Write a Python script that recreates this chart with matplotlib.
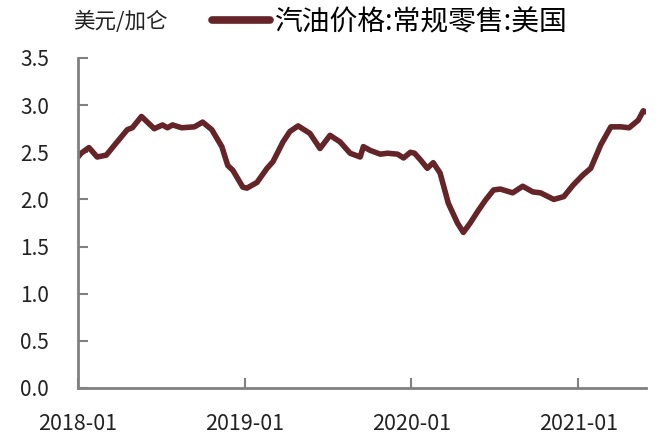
import matplotlib
matplotlib.use('Agg')
import matplotlib.pyplot as plt
import matplotlib.dates as mdates
import pandas as pd

plt.rcParams['font.family'] = ['Noto Sans CJK SC', 'DejaVu Sans']

# (US regular gasoline retail price, USD/gallon)
dates = ['2018-01-01', '2018-01-08', '2018-01-25', '2018-02-12', '2018-03-04',
         '2018-03-26', '2018-04-19', '2018-04-30', '2018-05-20', '2018-06-17',
         '2018-07-05', '2018-07-16', '2018-07-27', '2018-08-16', '2018-09-13',
         '2018-10-01', '2018-10-21', '2018-11-12', '2018-11-25', '2018-12-06',
         '2018-12-28', '2019-01-06', '2019-01-28', '2019-02-19', '2019-03-04',
         '2019-03-26', '2019-04-10', '2019-04-28', '2019-05-24', '2019-06-15',
         '2019-07-07', '2019-07-29', '2019-08-20', '2019-09-11', '2019-09-18',
         '2019-10-03', '2019-10-25', '2019-11-10', '2019-12-02', '2019-12-15',
         '2019-12-30', '2020-01-08', '2020-01-21', '2020-02-05', '2020-02-18',
         '2020-03-04', '2020-03-22', '2020-04-11', '2020-04-24', '2020-05-09',
         '2020-05-25', '2020-06-11', '2020-06-29', '2020-07-14', '2020-08-10',
         '2020-09-01', '2020-09-23', '2020-10-10', '2020-11-08', '2020-11-30',
         '2020-12-20', '2021-01-11', '2021-01-28', '2021-02-19', '2021-03-13',
         '2021-04-04', '2021-04-22', '2021-05-12', '2021-05-23', '2021-05-27']
prices = [2.45, 2.49, 2.55, 2.45, 2.47,
          2.60, 2.74, 2.76, 2.88, 2.75,
          2.79, 2.76, 2.79, 2.76, 2.77,
          2.82, 2.74, 2.56, 2.36, 2.31,
          2.13, 2.12, 2.18, 2.33, 2.40,
          2.61, 2.72, 2.78, 2.70, 2.54,
          2.68, 2.61, 2.49, 2.45, 2.56,
          2.52, 2.48, 2.49, 2.48, 2.44,
          2.50, 2.49, 2.42, 2.33, 2.39,
          2.28, 1.96, 1.75, 1.65, 1.75,
          1.87, 1.99, 2.10, 2.11, 2.07,
          2.14, 2.08, 2.07, 2.00, 2.03,
          2.15, 2.26, 2.33, 2.58, 2.77,
          2.77, 2.76, 2.84, 2.94, 2.93]

xticks = ['2018-01-01', '2019-01-01', '2020-01-01', '2021-01-01']
yticks = [0.0, 0.5, 1.0, 1.5, 2.0, 2.5, 3.0, 3.5]
series_name = '汽油价格:常规零售:美国'
unit = '美元/加仑'

x = pd.to_datetime(dates)

fig = plt.figure(figsize=(6.63, 4.43), dpi=100)
ax = fig.add_axes([78 / 663, 1 - 388 / 443, (646 - 78) / 663, (388 - 58) / 443])

line_color = '#642428'
ax.plot(x, prices, color=line_color, lw=4, solid_capstyle='round',
        solid_joinstyle='round', label=series_name)

ax.set_ylim(0, 3.5)
ax.set_yticks(yticks)
ax.set_yticklabels(['%.1f' % v for v in yticks])
ax.set_xlim(pd.Timestamp('2018-01-01'), pd.Timestamp('2021-05-29'))
ax.set_xticks(pd.to_datetime(xticks))
ax.xaxis.set_major_formatter(mdates.DateFormatter('%Y-%m'))

for s in ['top', 'right']:
    ax.spines[s].set_visible(False)
for s in ['left', 'bottom']:
    ax.spines[s].set_color('#808080')
    ax.spines[s].set_linewidth(2)

ax.tick_params(axis='y', direction='in', length=7, width=1.5, color='#808080',
               labelsize=15, pad=21, labelcolor='#222222')
ax.tick_params(axis='x', direction='in', length=7, width=1.5, color='#808080',
               labelsize=15.5, pad=18, labelcolor='#222222')

fig.text(73 / 663, 1 - 22 / 443, unit, fontsize=15.5, va='center', ha='left',
         color='#222222')
ax.legend(loc='center left', bbox_to_anchor=(212 / 663, 1 - 22 / 443),
          bbox_transform=fig.transFigure, frameon=False, fontsize=20,
          handlelength=2.1, handletextpad=0.15, borderpad=0, borderaxespad=0)
leg = ax.get_legend()
leg.get_lines()[0].set_linewidth(5.5)

fig.savefig('out.png', dpi=100)
